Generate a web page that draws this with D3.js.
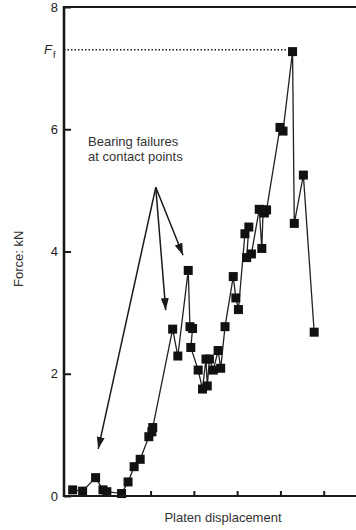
<!DOCTYPE html>
<html>
<head>
<meta charset="utf-8">
<script src="https://cdn.jsdelivr.net/npm/d3@7"></script>
<style>
  body { margin: 0; background: #fff; }
  svg { display: block; font-family: "Liberation Sans", Arial, sans-serif; }
</style>
</head>
<body>
<div id="chart"></div>
<script>
// platen displacement (arbitrary units, one per tick) and force in kN
var disp = [0.20, 0.43, 0.73, 0.90, 0.99, 1.33, 1.48, 1.62, 1.76, 1.96, 2.03, 2.05,
            2.51, 2.63, 2.87, 2.91, 2.97, 2.93, 3.10, 3.20, 3.28, 3.31, 3.36, 3.45,
            3.56, 3.62, 3.72, 3.91, 3.97, 4.03, 4.18, 4.27, 4.22, 4.33, 4.51, 4.57,
            4.60, 4.63, 4.68, 4.99, 5.06, 5.28, 5.32, 5.53, 5.78];
var force = [0.10, 0.08, 0.30, 0.10, 0.07, 0.04, 0.23, 0.48, 0.60, 0.97, 1.05, 1.12,
             2.73, 2.29, 3.69, 2.77, 2.74, 2.43, 2.06, 1.75, 2.24, 1.80, 2.24, 2.06,
             2.38, 2.09, 2.77, 3.59, 3.24, 3.05, 4.29, 4.40, 3.90, 3.96, 4.69, 4.05,
             4.68, 4.63, 4.68, 6.03, 5.97, 7.27, 4.46, 5.25, 2.68];
var yTicks = [0, 2, 4, 6, 8];
var xTicks = [1, 2, 3, 4, 5, 6];
var failForce = 7.30;

// arrows for the note: one start, three targets [disp, force]
var noteFrom = [2.12, 5.05];
var noteTo = [[0.79, 0.77], [2.35, 3.04], [2.75, 3.94]];
var noteLines = ["Bearing failures", "at contact points"];

var W = 356, H = 530;
var svg = d3.select("#chart").append("svg")
  .attr("width", W)
  .attr("height", H);

var x = d3.scaleLinear().domain([0, 7]).range([64, 367]);
var y = d3.scaleLinear().domain([0, 8]).range([496, 7]);

var ink = "#1a1a1a";

svg.append("defs").append("marker")
  .attr("id", "head")
  .attr("viewBox", "0 0 12 8")
  .attr("refX", 12)
  .attr("refY", 4)
  .attr("markerWidth", 12)
  .attr("markerHeight", 8)
  .attr("markerUnits", "userSpaceOnUse")
  .attr("orient", "auto")
  .append("path")
  .attr("d", "M0,0 L12,4 L0,8 Z")
  .attr("fill", ink);

// Ff dotted line to the peak
var iMax = d3.maxIndex(force);
svg.append("line")
  .attr("x1", x(0)).attr("x2", x(disp[iMax]))
  .attr("y1", y(failForce)).attr("y2", y(failForce))
  .attr("stroke", ink)
  .attr("stroke-width", 1.4)
  .attr("stroke-dasharray", "1.5,2");

// data line
var pts = disp.map(function(d, i) { return [d, force[i]]; });
svg.append("path")
  .datum(pts)
  .attr("fill", "none")
  .attr("stroke", "#222")
  .attr("stroke-width", 1.3)
  .attr("d", d3.line().x(function(d) { return x(d[0]); }).y(function(d) { return y(d[1]); }));

svg.selectAll("rect.pt")
  .data(pts)
  .enter()
  .append("rect")
  .attr("class", "pt")
  .attr("x", function(d) { return x(d[0]) - 4.5; })
  .attr("y", function(d) { return y(d[1]) - 4.5; })
  .attr("width", 9)
  .attr("height", 9)
  .attr("fill", "#111");

// axes
var yAxis = d3.axisRight(y).tickValues(yTicks).tickSize(7).tickFormat("");
var gy = svg.append("g").attr("transform", "translate(" + x(0) + ",0)").call(yAxis);
var xAxis = d3.axisTop(x).tickValues(xTicks).tickSize(5).tickFormat("");
var gx = svg.append("g").attr("transform", "translate(0," + y(0) + ")").call(xAxis);
[gy, gx].forEach(function(g) {
  g.select(".domain").remove();
  g.selectAll(".tick line").attr("stroke", ink).attr("stroke-width", 2);
});

// frame
svg.append("line").attr("x1", x(0)).attr("x2", W).attr("y1", y(0)).attr("y2", y(0))
  .attr("stroke", ink).attr("stroke-width", 2.2);
svg.append("line").attr("x1", x(0)).attr("x2", W).attr("y1", y(8)).attr("y2", y(8))
  .attr("stroke", ink).attr("stroke-width", 2.2);
svg.append("line").attr("x1", x(0)).attr("x2", x(0)).attr("y1", y(8) - 1.1).attr("y2", y(0) + 1.1)
  .attr("stroke", ink).attr("stroke-width", 2.6);

// tick labels
svg.selectAll("text.yl")
  .data(yTicks)
  .enter()
  .append("text")
  .attr("class", "yl")
  .attr("x", 58)
  .attr("y", function(d) { return y(d); })
  .attr("dy", "0.36em")
  .attr("text-anchor", "end")
  .attr("font-size", "13px")
  .attr("fill", "#222")
  .text(function(d) { return d; });

var ff = svg.append("text")
  .attr("x", 44)
  .attr("y", y(failForce) + 4)
  .attr("font-size", "13px")
  .attr("fill", "#222");
ff.append("tspan").attr("font-style", "italic").text("F");
ff.append("tspan").attr("font-size", "9px").attr("dy", 4).attr("dx", 1).text("f");

// axis titles
svg.append("text")
  .attr("transform", "translate(23," + y(3.88) + ") rotate(-90)")
  .attr("text-anchor", "middle")
  .attr("font-size", "13px")
  .attr("fill", "#333")
  .text("Force: kN");

svg.append("text")
  .attr("x", 223)
  .attr("y", 522)
  .attr("text-anchor", "middle")
  .attr("font-size", "13px")
  .attr("fill", "#333")
  .text("Platen displacement");

// annotation
svg.selectAll("text.note")
  .data(noteLines)
  .enter()
  .append("text")
  .attr("class", "note")
  .attr("x", 88)
  .attr("y", function(d, i) { return 146 + i * 15; })
  .attr("font-size", "13px")
  .attr("fill", "#333")
  .text(function(d) { return d; });

svg.selectAll("line.arrow")
  .data(noteTo)
  .enter()
  .append("line")
  .attr("class", "arrow")
  .attr("x1", x(noteFrom[0]))
  .attr("y1", y(noteFrom[1]))
  .attr("x2", function(d) { return x(d[0]); })
  .attr("y2", function(d) { return y(d[1]); })
  .attr("stroke", ink)
  .attr("stroke-width", 1.5)
  .attr("marker-end", "url(#head)");
</script>
</body>
</html>
